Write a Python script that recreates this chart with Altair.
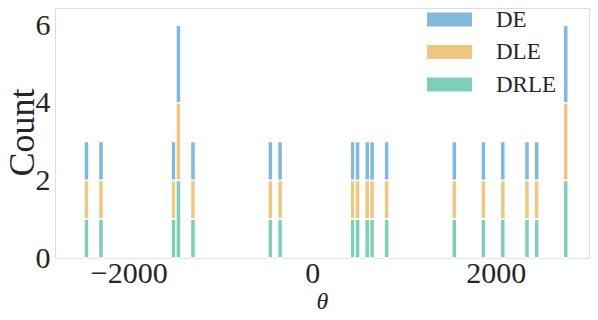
import altair as alt
import pandas as pd

# Histogram bins (centers on theta axis) and counts per series
BIN_WIDTH = 52.76
bin_centers = [-2460.6, -2302.3, -1510.9, -1458.1, -1299.8, -455.7, -350.2,
               441.2, 494.0, 599.5, 652.3, 810.6, 1549.2, 1865.8, 2076.8,
               2340.6, 2446.2, 2762.8]
counts_de = [1, 1, 1, 2, 1, 1, 1, 1, 1, 1, 1, 1, 1, 1, 1, 1, 1, 2]
counts_dle = [1, 1, 1, 2, 1, 1, 1, 1, 1, 1, 1, 1, 1, 1, 1, 1, 1, 2]
counts_drle = [1, 1, 1, 2, 1, 1, 1, 1, 1, 1, 1, 1, 1, 1, 1, 1, 1, 2]

series_names = ["DE", "DLE", "DRLE"]
series_colors = ["#80b9d9", "#eec782", "#80ceb9"]
stack_rank = {"DRLE": 0, "DLE": 1, "DE": 2}

x_ticks = [-2000, 0, 2000]
y_ticks = [0, 2, 4, 6]

rows = []
for name, counts in zip(series_names, [counts_de, counts_dle, counts_drle]):
    for c, n in zip(bin_centers, counts):
        rows.append({"series": name, "lo": c - BIN_WIDTH / 2, "hi": c + BIN_WIDTH / 2,
                     "count": n, "rank": stack_rank[name]})
df = pd.DataFrame(rows)

FONT = "Times New Roman, Liberation Serif, serif"
TXT = "#262626"

chart = alt.Chart(df).mark_bar(stroke="white", strokeWidth=1.3, opacity=1).encode(
    x=alt.X("lo:Q", scale=alt.Scale(domain=[-2749, 2962], nice=False, zero=False),
            axis=alt.Axis(values=x_ticks, format="d", title="θ", titleFont=FONT,
                          titleFontStyle="italic",
                          titleFontWeight="normal", titleFontSize=24, titleColor=TXT,
                          titleBaseline="alphabetic", titleY=50,
                          labelFont=FONT, labelFontSize=30, labelColor=TXT, labelPadding=0,
                          ticks=False, domain=False, grid=False)),
    x2="hi:Q",
    y=alt.Y("sum(count):Q", stack="zero",
            scale=alt.Scale(domain=[0, 6.45], nice=False),
            axis=alt.Axis(values=y_ticks, title="Count", titleFont=FONT, titleFontSize=36,
                          titleFontWeight="normal", titleColor=TXT, titleBaseline="alphabetic",
                          titleX=-22, titleY=124, titleAngle=-90,
                          labelFont=FONT, labelFontSize=30, labelColor=TXT, labelPadding=5,
                          ticks=False, domain=False, grid=False)),
    color=alt.Color("series:N", scale=alt.Scale(domain=series_names, range=series_colors),
                    legend=alt.Legend(title=None, orient="none", legendX=383, legendY=0,
                                      symbolType="M-3,-0.933H3V0.933H-3Z", symbolSize=225,
                                      symbolStrokeWidth=0, symbolOpacity=1,
                                      labelFont=FONT, labelFontSize=23, labelColor=TXT,
                                      labelOffset=35, rowPadding=8.5, padding=0)),
    order=alt.Order("rank:Q"),
).properties(
    width=534, height=250,
    autosize=alt.AutoSizeParams(type="none"),
    padding={"left": 47, "top": 0, "right": 1, "bottom": 54},
).configure_view(
    stroke="#8c8c8c", strokeWidth=1.5
).configure(
    background="white"
)

chart.save("out.html", embed_options={"renderer": "svg", "actions": False})
